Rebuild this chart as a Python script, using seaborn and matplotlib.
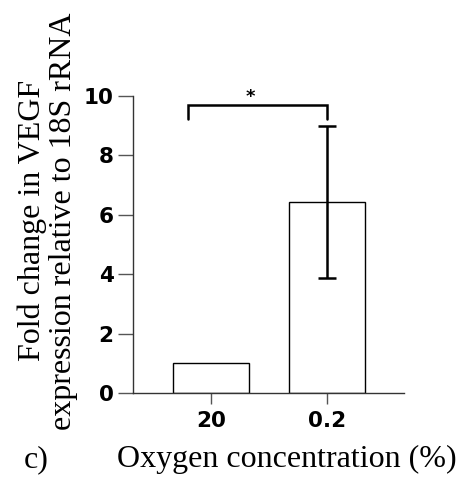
import matplotlib
matplotlib.use("Agg")
import matplotlib.pyplot as plt
import seaborn as sns
import pandas as pd

# Relative VEGF expression at two oxygen levels
oxygen_levels = ["20", "0.2"]
fold_change = [1.0, 6.43]
fold_sd = [0.0, 2.56]
y_ticks = [0, 2, 4, 6, 8, 10]
bracket_y = 9.7
bracket_leg = 9.23

sns.set_theme(style="ticks")

df = pd.DataFrame({"oxygen": oxygen_levels, "fold": fold_change})

fig = plt.figure(figsize=(4.6, 4.78), dpi=100)
ax = fig.add_axes([0.289, 0.178, 0.589, 0.621])

sns.barplot(data=df, x="oxygen", y="fold", order=oxygen_levels, color="white",
            edgecolor="black", linewidth=1.0, width=0.66, errorbar=None,
            saturation=1, ax=ax)

# SD error bar on the hypoxic condition only
ax.errorbar([1], [fold_change[1]], yerr=[fold_sd[1]], fmt="none",
            ecolor="black", elinewidth=1.8, capsize=6.8, capthick=1.8, zorder=5)

# significance bracket
ax.plot([-0.2, -0.2, 1.0, 1.0], [bracket_leg, bracket_y, bracket_y, bracket_leg],
        color="black", lw=1.8, clip_on=False, solid_joinstyle="miter")
ax.text(0.34, bracket_y - 0.02, "*", ha="center", va="bottom",
        fontsize=13, fontweight="bold", color="black", clip_on=False)

ax.set_xlim(-0.672, 1.664)
ax.set_ylim(0, 10)
ax.set_yticks(y_ticks)
ax.set_yticklabels([str(t) for t in y_ticks])
ax.set_xlabel("")
ax.set_ylabel("")

for side in ["top", "right"]:
    ax.spines[side].set_visible(False)
for side in ["left", "bottom"]:
    ax.spines[side].set_color("#333333")
    ax.spines[side].set_linewidth(1.0)

ax.tick_params(axis="y", length=10.5, width=1.0, color="#555555", pad=3.5,
               direction="out")
ax.tick_params(axis="x", length=8, width=1.0, color="#555555", pad=5,
               direction="out")
for lab in ax.get_xticklabels() + ax.get_yticklabels():
    lab.set_fontfamily("DejaVu Sans")
    lab.set_fontweight("bold")
    lab.set_fontsize(15.5)
    lab.set_color("black")

fig.text(0.104, 0.538, "Fold change in VEGF\nexpression relative to 18S rRNA",
         rotation=90, ha="center", va="center", multialignment="center",
         family="Liberation Serif", fontsize=23, color="black", linespacing=1.12)
fig.text(0.624, 0.038, "Oxygen concentration (%)", ha="center", va="center",
         family="Liberation Serif", fontsize=23, color="black")
fig.text(0.078, 0.038, "c)", ha="center", va="center",
         family="Liberation Serif", fontsize=23, color="black")

fig.savefig("out.png", dpi=100, facecolor="white")
